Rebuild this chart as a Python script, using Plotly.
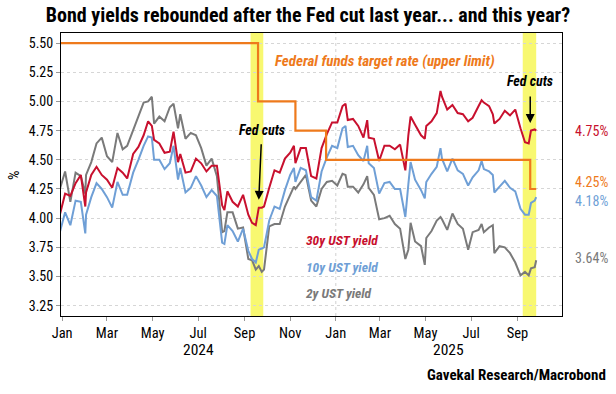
import plotly.graph_objects as go

# ---------------- data ----------------
dates = [
    "2023-12-29", "2024-01-05", "2024-01-12", "2024-01-19", "2024-01-26", "2024-02-01",
    "2024-02-02", "2024-02-09", "2024-02-16", "2024-02-23", "2024-03-01", "2024-03-08",
    "2024-03-15", "2024-03-22", "2024-03-28", "2024-04-05", "2024-04-12", "2024-04-19",
    "2024-04-25", "2024-04-30", "2024-05-03", "2024-05-10", "2024-05-17", "2024-05-24",
    "2024-05-29", "2024-06-04", "2024-06-07", "2024-06-14", "2024-06-21", "2024-06-28",
    "2024-07-05", "2024-07-12", "2024-07-19", "2024-07-26", "2024-08-02", "2024-08-05",
    "2024-08-09", "2024-08-16", "2024-08-23", "2024-08-30", "2024-09-06", "2024-09-11",
    "2024-09-16", "2024-09-20", "2024-09-24", "2024-09-27", "2024-10-04", "2024-10-11",
    "2024-10-18", "2024-10-25", "2024-11-01", "2024-11-06", "2024-11-08", "2024-11-15",
    "2024-11-22", "2024-11-29", "2024-12-06", "2024-12-13", "2024-12-20", "2024-12-27",
    "2025-01-03", "2025-01-10", "2025-01-14", "2025-01-17", "2025-01-24", "2025-01-31",
    "2025-02-07", "2025-02-12", "2025-02-14", "2025-02-21", "2025-02-28", "2025-03-07",
    "2025-03-14", "2025-03-21", "2025-03-28", "2025-04-04", "2025-04-08", "2025-04-11",
    "2025-04-17", "2025-04-25", "2025-04-30", "2025-05-02", "2025-05-09", "2025-05-16",
    "2025-05-21", "2025-05-23", "2025-05-30", "2025-06-06", "2025-06-13", "2025-06-20",
    "2025-06-27", "2025-07-03", "2025-07-11", "2025-07-15", "2025-07-18", "2025-07-25",
    "2025-07-30", "2025-08-01", "2025-08-08", "2025-08-15", "2025-08-22", "2025-08-29",
    "2025-09-05", "2025-09-11", "2025-09-16", "2025-09-19", "2025-09-24", "2025-09-26",
]

y2 = [
    4.25, 4.40, 4.14, 4.39, 4.36, 4.21,
    4.37, 4.48, 4.64, 4.69, 4.53, 4.48,
    4.73, 4.59, 4.62, 4.75, 4.88, 4.99,
    5.00, 5.04, 4.81, 4.87, 4.83, 4.95,
    4.98, 4.77, 4.89, 4.68, 4.73, 4.71,
    4.60, 4.45, 4.51, 4.36, 3.88, 3.89,
    4.05, 4.05, 3.91, 3.92, 3.65, 3.64,
    3.56, 3.59, 3.54, 3.56, 3.93, 3.95,
    3.95, 4.10, 4.20, 4.27, 4.25, 4.31,
    4.37, 4.15, 4.10, 4.25, 4.31, 4.32,
    4.28, 4.38, 4.37, 4.27, 4.27, 4.22,
    4.29, 4.36, 4.26, 4.20, 3.99, 4.00,
    4.02, 3.95, 3.91, 3.65, 3.73, 3.96,
    3.80, 3.76, 3.60, 3.83, 3.89, 3.98,
    4.01, 3.99, 3.90, 4.04, 3.95, 3.91,
    3.73, 3.88, 3.90, 3.95, 3.88, 3.92,
    3.94, 3.70, 3.76, 3.75, 3.70, 3.62,
    3.51, 3.54, 3.51, 3.57, 3.58, 3.64,
]

y10 = [
    3.88, 4.05, 3.94, 4.15, 4.14, 3.87,
    4.03, 4.18, 4.30, 4.25, 4.18, 4.09,
    4.31, 4.20, 4.20, 4.39, 4.50, 4.62,
    4.70, 4.69, 4.50, 4.50, 4.42, 4.47,
    4.62, 4.33, 4.43, 4.22, 4.26, 4.36,
    4.28, 4.18, 4.24, 4.19, 3.79, 3.78,
    3.94, 3.89, 3.80, 3.91, 3.72, 3.65,
    3.62, 3.73, 3.74, 3.75, 3.98, 4.10,
    4.08, 4.24, 4.37, 4.43, 4.31, 4.43,
    4.41, 4.18, 4.15, 4.40, 4.52, 4.62,
    4.60, 4.77, 4.79, 4.61, 4.62, 4.54,
    4.49, 4.62, 4.47, 4.43, 4.21, 4.30,
    4.31, 4.25, 4.25, 4.01, 4.29, 4.48,
    4.33, 4.24, 4.17, 4.31, 4.38, 4.44,
    4.60, 4.51, 4.40, 4.51, 4.41, 4.38,
    4.28, 4.35, 4.41, 4.49, 4.42, 4.40,
    4.37, 4.22, 4.27, 4.32, 4.26, 4.23,
    4.08, 4.03, 4.03, 4.13, 4.15, 4.18,
]

y30 = [
    4.03, 4.21, 4.19, 4.30, 4.37, 4.10,
    4.22, 4.37, 4.44, 4.37, 4.33, 4.26,
    4.43, 4.39, 4.34, 4.55, 4.61, 4.71,
    4.83, 4.79, 4.67, 4.64, 4.56, 4.57,
    4.74, 4.48, 4.55, 4.39, 4.40, 4.51,
    4.47, 4.40, 4.45, 4.45, 4.11, 4.07,
    4.23, 4.14, 4.10, 4.20, 4.03, 3.96,
    3.94, 4.09, 4.09, 4.10, 4.26, 4.41,
    4.39, 4.51, 4.56, 4.62, 4.47, 4.60,
    4.60, 4.36, 4.34, 4.60, 4.72, 4.82,
    4.82, 4.96, 4.98, 4.84, 4.85, 4.79,
    4.69, 4.84, 4.69, 4.68, 4.49, 4.62,
    4.62, 4.59, 4.63, 4.41, 4.71, 4.87,
    4.80, 4.71, 4.68, 4.79, 4.83, 4.90,
    5.09, 5.04, 4.93, 4.97, 4.90, 4.89,
    4.83, 4.86, 4.96, 5.01, 4.99, 4.96,
    4.89, 4.81, 4.85, 4.92, 4.88, 4.93,
    4.77, 4.65, 4.64, 4.75, 4.76, 4.75,
]

ff_dates = ["2023-12-29", "2024-09-19", "2024-11-08", "2024-12-19", "2025-09-18", "2025-09-26"]
ff_rate = [5.50, 5.00, 4.75, 4.50, 4.25, 4.25]

band_starts = ["2024-09-09", "2025-09-08"]
band_ends = ["2024-09-26", "2025-09-26"]
cut_dates = ["2024-09-20", "2025-09-18"]

month_ticks = ["2024-01-01", "2024-03-01", "2024-05-01", "2024-07-01", "2024-09-01", "2024-11-01",
               "2025-01-01", "2025-03-01", "2025-05-01", "2025-07-01", "2025-09-01"]
month_labels = ["Jan", "Mar", "May", "Jul", "Sep", "Nov", "Jan", "Mar", "May", "Jul", "Sep"]
year_labels = ["2024", "2025"]
year_pos = ["2024-07-01", "2025-06-01"]
y_ticks = [3.25, 3.50, 3.75, 4.00, 4.25, 4.50, 4.75, 5.00, 5.25, 5.50]

# ---------------- styles ----------------
FONT = "Liberation Sans Narrow, Arial Narrow, Roboto Condensed, Roboto, sans-serif"
RED = "#c8102e"
BLUE = "#6f9fd6"
GRAY = "#7a7a7a"
ORANGE = "#ee7a1c"
YELLOW = "#f8f870"

fig = go.Figure()

fig.add_trace(go.Scatter(x=dates, y=y2, mode="lines", line=dict(color=GRAY, width=2), name="2y"))
fig.add_trace(go.Scatter(x=dates, y=y10, mode="lines", line=dict(color=BLUE, width=2), name="10y"))
fig.add_trace(go.Scatter(x=dates, y=y30, mode="lines", line=dict(color=RED, width=2), name="30y"))
fig.add_trace(go.Scatter(x=ff_dates, y=ff_rate, mode="lines", line=dict(color=ORANGE, width=2.2, shape="hv"),
                         name="ff"))

shapes = []
for s, e in zip(band_starts, band_ends):
    shapes.append(dict(type="rect", xref="x", yref="paper", x0=s, x1=e, y0=0, y1=1,
                       fillcolor=YELLOW, line=dict(width=0), layer="below"))
shapes.append(dict(type="line", xref="x", yref="paper", x0="2025-01-01", x1="2025-01-01", y0=0, y1=1,
                   line=dict(color="#d0d0d0", width=1, dash="dot"), layer="below"))

ann = []
# end labels
for val, col, ys in [(y30[-1], RED, 0), (ff_rate[-1], ORANGE, 7), (y10[-1], BLUE, -3.5), (y2[-1], GRAY, 2)]:
    ann.append(dict(xref="paper", yref="y", x=1.022, y=val, xanchor="left", yanchor="middle",
                    text=f"{val:.2f}%", showarrow=False, yshift=ys,
                    font=dict(family=FONT, size=14, color=col)))
# series labels
for txt, col, yv in [("30y UST yield", RED, 3.814), ("10y UST yield", BLUE, 3.584), ("2y UST yield", GRAY, 3.358)]:
    ann.append(dict(xref="paper", yref="y", x=0.485, y=yv, xanchor="left", yanchor="middle",
                    text=txt, showarrow=False,
                    font=dict(family=FONT, size=13.5, color=col, style="italic", weight="bold")))
ann.append(dict(xref="paper", yref="y", x=0.647, y=5.348, xanchor="center", yanchor="middle",
                text="Federal funds target rate (upper limit)", showarrow=False,
                font=dict(family=FONT, size=15, color=ORANGE, style="italic", weight="bold")))
# Fed cuts
ann.append(dict(xref="x", yref="y", x=cut_dates[0], y=4.758, text="Fed cuts", showarrow=False,
                xanchor="center", yanchor="middle", xshift=3,
                font=dict(family=FONT, size=14, color="black", style="italic", weight="bold")))
ann.append(dict(xref="x", yref="y", x=cut_dates[0], y=4.157, text="", showarrow=True,
                ax=2.5, ay=-57, arrowhead=2, arrowsize=1.2, arrowwidth=1.5, arrowcolor="black"))
ann.append(dict(xref="x", yref="y", x=cut_dates[1], y=5.178, text="Fed cuts", showarrow=False,
                xanchor="center", yanchor="middle",
                font=dict(family=FONT, size=14, color="black", style="italic", weight="bold")))
ann.append(dict(xref="x", yref="y", x=cut_dates[1], y=4.815, text="", showarrow=True,
                ax=0, ay=-28, arrowhead=2, arrowsize=1.2, arrowwidth=1.5, arrowcolor="black"))
# year labels
for yl, yp in zip(year_labels, year_pos):
    ann.append(dict(xref="x", yref="paper", x=yp, y=-0.12, text=yl, showarrow=False,
                    xanchor="center", yanchor="middle", font=dict(family=FONT, size=15.5, color="black")))
# y axis title
ann.append(dict(xref="paper", yref="paper", x=-0.094, y=0.498, text="%", textangle=-90, showarrow=False,
                xanchor="center", yanchor="middle", font=dict(family=FONT, size=15, color="black")))
# source
ann.append(dict(xref="paper", yref="paper", x=1.092, y=-0.2085, text="Gavekal Research/Macrobond",
                showarrow=False, xanchor="right", yanchor="middle",
                font=dict(family=FONT, size=15, color="black", weight="bold")))

fig.update_layout(
    width=616, height=394,
    margin=dict(l=61, r=54, t=33, b=78),
    paper_bgcolor="white", plot_bgcolor="white",
    showlegend=False,
    title=dict(text="Bond yields rebounded after the Fed cut last year... and this year?",
               x=0.5, xanchor="center", y=0.962, yanchor="middle",
               font=dict(family=FONT, size=20, color="black", weight="bold")),
    shapes=shapes, annotations=ann,
    xaxis=dict(type="date", range=["2023-12-30 12:00", "2025-10-30 12:00"],
               tickvals=month_ticks, ticktext=month_labels, showgrid=False,
               ticks="outside", ticklen=4, tickcolor="#999999",
               showline=True, linecolor="black", linewidth=1, mirror=True,
               tickfont=dict(family=FONT, size=14.5, color="black")),
    yaxis=dict(range=[3.162, 5.586], tickvals=y_ticks, ticktext=[f"{v:.2f}" for v in y_ticks],
               showgrid=True, gridcolor="#d6d6d6", griddash="dot", gridwidth=1,
               ticks="outside", ticklen=4, tickcolor="#999999",
               showline=True, linecolor="black", linewidth=1, mirror=True, zeroline=False,
               tickfont=dict(family=FONT, size=14, color="black")),
)

fig.write_html("out.html", config={"displayModeBar": False},
               post_script="document.body.style.margin='0px';")
